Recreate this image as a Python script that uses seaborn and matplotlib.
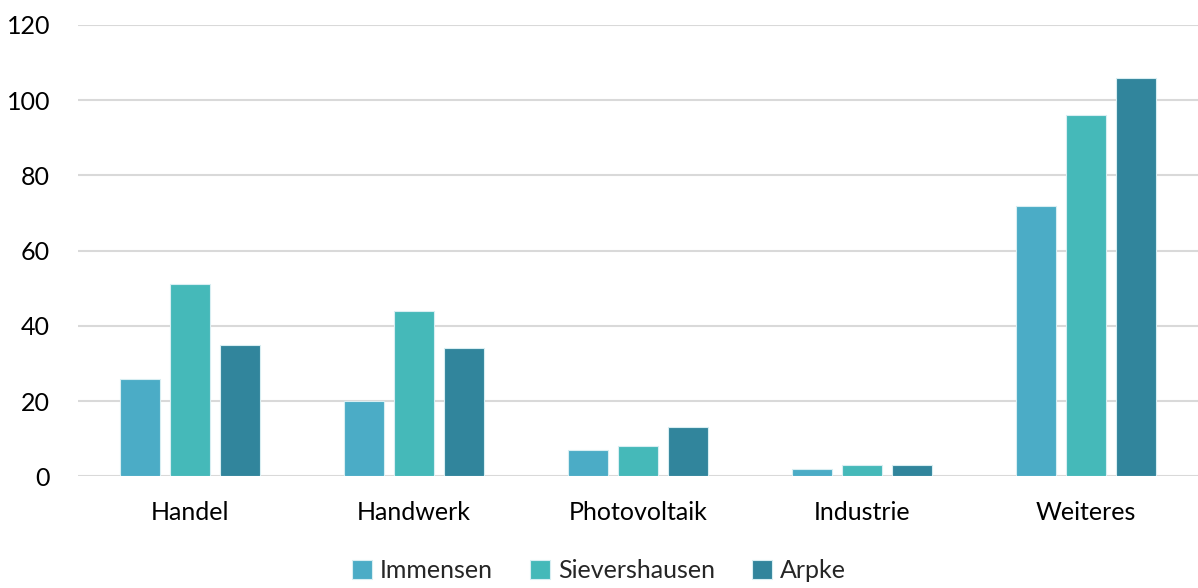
import numpy as np
import pandas as pd
import seaborn as sns
import matplotlib.pyplot as plt

categories = ['Handel', 'Handwerk', 'Photovoltaik', 'Industrie', 'Weiteres']
immensen = [26, 20, 7, 2, 72]
sievershausen = [51, 44, 8, 3, 96]
arpke = [35, 34, 13, 3, 106]
series = ['Immensen', 'Sievershausen', 'Arpke']
colors = ['#4BACC6', '#45B9B9', '#31859C']

df = pd.DataFrame({
    'Kategorie': categories * 3,
    'Wert': immensen + sievershausen + arpke,
    'Ort': [s for s in series for _ in categories],
})

sns.set_theme(style='white')
plt.rcParams['font.family'] = ['Lato', 'DejaVu Sans']

fig = plt.figure(figsize=(11.98, 5.88), dpi=100)
ax = fig.add_axes([0.065, 0.19, 0.935, 0.7675])

sns.barplot(data=df, x='Kategorie', y='Wert', hue='Ort', order=categories,
            hue_order=series, palette=colors, width=0.668, gap=0.2,
            saturation=1, errorbar=None, ax=ax, zorder=3,
            edgecolor='#d8eef2', linewidth=0.8)

ax.set_ylim(0, 120)
ax.set_yticks(np.arange(0, 121, 20))
ax.set_xlim(-0.5, 4.5)
ax.yaxis.grid(True, color='#d9d9d9', linewidth=1.5, zorder=0)
ax.set_axisbelow(True)
for s in ax.spines.values():
    s.set_visible(False)
ax.axhline(0, color='#d9d9d9', linewidth=2, zorder=2)
ax.tick_params(axis='both', length=0, labelsize=18, colors='black')
ax.tick_params(axis='y', pad=20)
ax.tick_params(axis='x', pad=18)
ax.set_xlabel('')
ax.set_ylabel('')

ax.legend(loc='center', bbox_to_anchor=(0.5, 0.03), bbox_transform=fig.transFigure,
          ncol=3, frameon=False, fontsize=18, handlelength=0.8, handleheight=0.8,
          handletextpad=0.3, columnspacing=1.5)

fig.savefig('out.png', dpi=100)
